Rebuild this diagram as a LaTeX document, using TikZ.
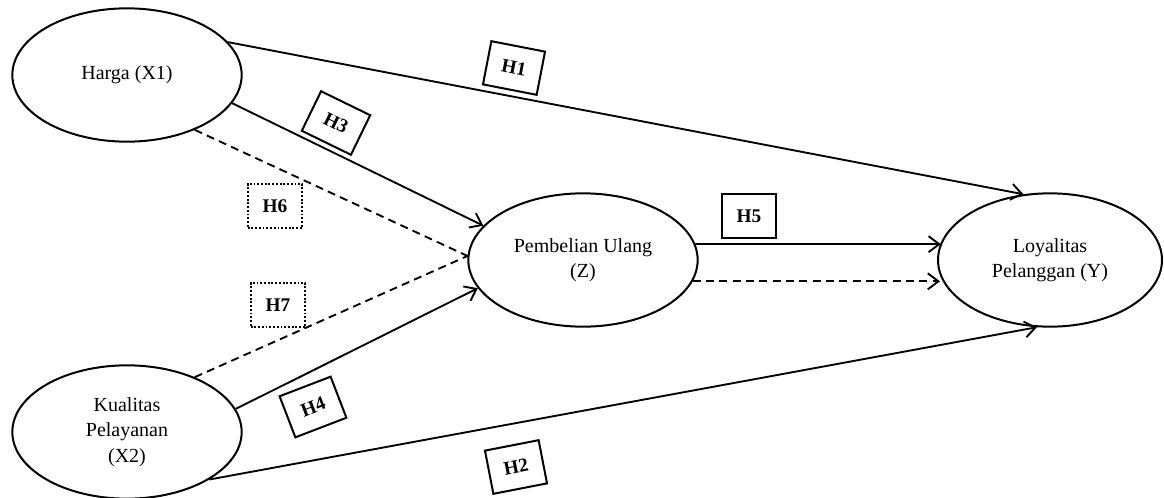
\documentclass[tikz,border=0pt]{standalone}
\usepackage{fontspec}
\setmainfont{Liberation Serif}
\usetikzlibrary{shapes.geometric,arrows.meta}
\begin{document}
\begin{tikzpicture}[x=0.75pt,y=-0.75pt,
 var/.style={ellipse,draw,line width=1.5pt,minimum width=172pt,minimum height=100pt,inner sep=0pt,align=center,font=\fontsize{15}{19}\selectfont},
 hyp/.style={draw,line width=1.5pt,minimum width=41pt,minimum height=33pt,inner sep=0pt,font=\fontsize{14.5}{16}\selectfont\bfseries},
 hypd/.style={hyp,dash pattern=on 1.4pt off 1.4pt},
 conn/.style={line width=1.4pt,-{Straight Barb[length=8pt,width=12pt,line width=1.4pt]}},
 dconn/.style={conn,dash pattern=on 6pt off 4pt},
 dline/.style={line width=1.4pt,dash pattern=on 6pt off 4pt}
]
\useasboundingbox (0,0) rectangle (1164,497);
\node[var] (harga) at (127,75) {Harga (X1)};
\node[var] (kual) at (127,432) {Kualitas\\Pelayanan\\(X2)};
\node[var] (pemb) at (583,260) {Pembelian Ulang\\(Z)};
\node[var,minimum width=168pt] (loy) at (1050,260) {Loyalitas\\Pelanggan (Y)};

\draw[conn] (harga.18.8) -- (loy.112);
\draw[conn] (harga.-15.9) -- (pemb.161.7);
\draw[dline] (harga.-39) -- (pemb.178.5);
\draw[dline] (kual.39.8) -- (pemb.178.5);
\draw[conn] (kual.12) -- (pemb.-165);
\draw[conn] (kual.-30.6) -- (loy.-101);
\draw[conn] (pemb.8) -- (loy.171 |- pemb.8);
\draw[dconn] (pemb.-11.6) -- (loy.-172 |- pemb.-11.6);

\node[hyp,rotate=-11] (h1) at (514,68) {H1};
\node[hyp,rotate=-26] (h3) at (336,123) {H3};
\node[hypd] (h6) at (275,206) {H6};
\node[hypd] (h7) at (278,305) {H7};
\node[hyp,rotate=21] (h4) at (313,407) {H4};
\node[hyp,rotate=11] (h2) at (516,467) {H2};
\node[hyp] (h5) at (749,216) {H5};
\end{tikzpicture}
\end{document}
